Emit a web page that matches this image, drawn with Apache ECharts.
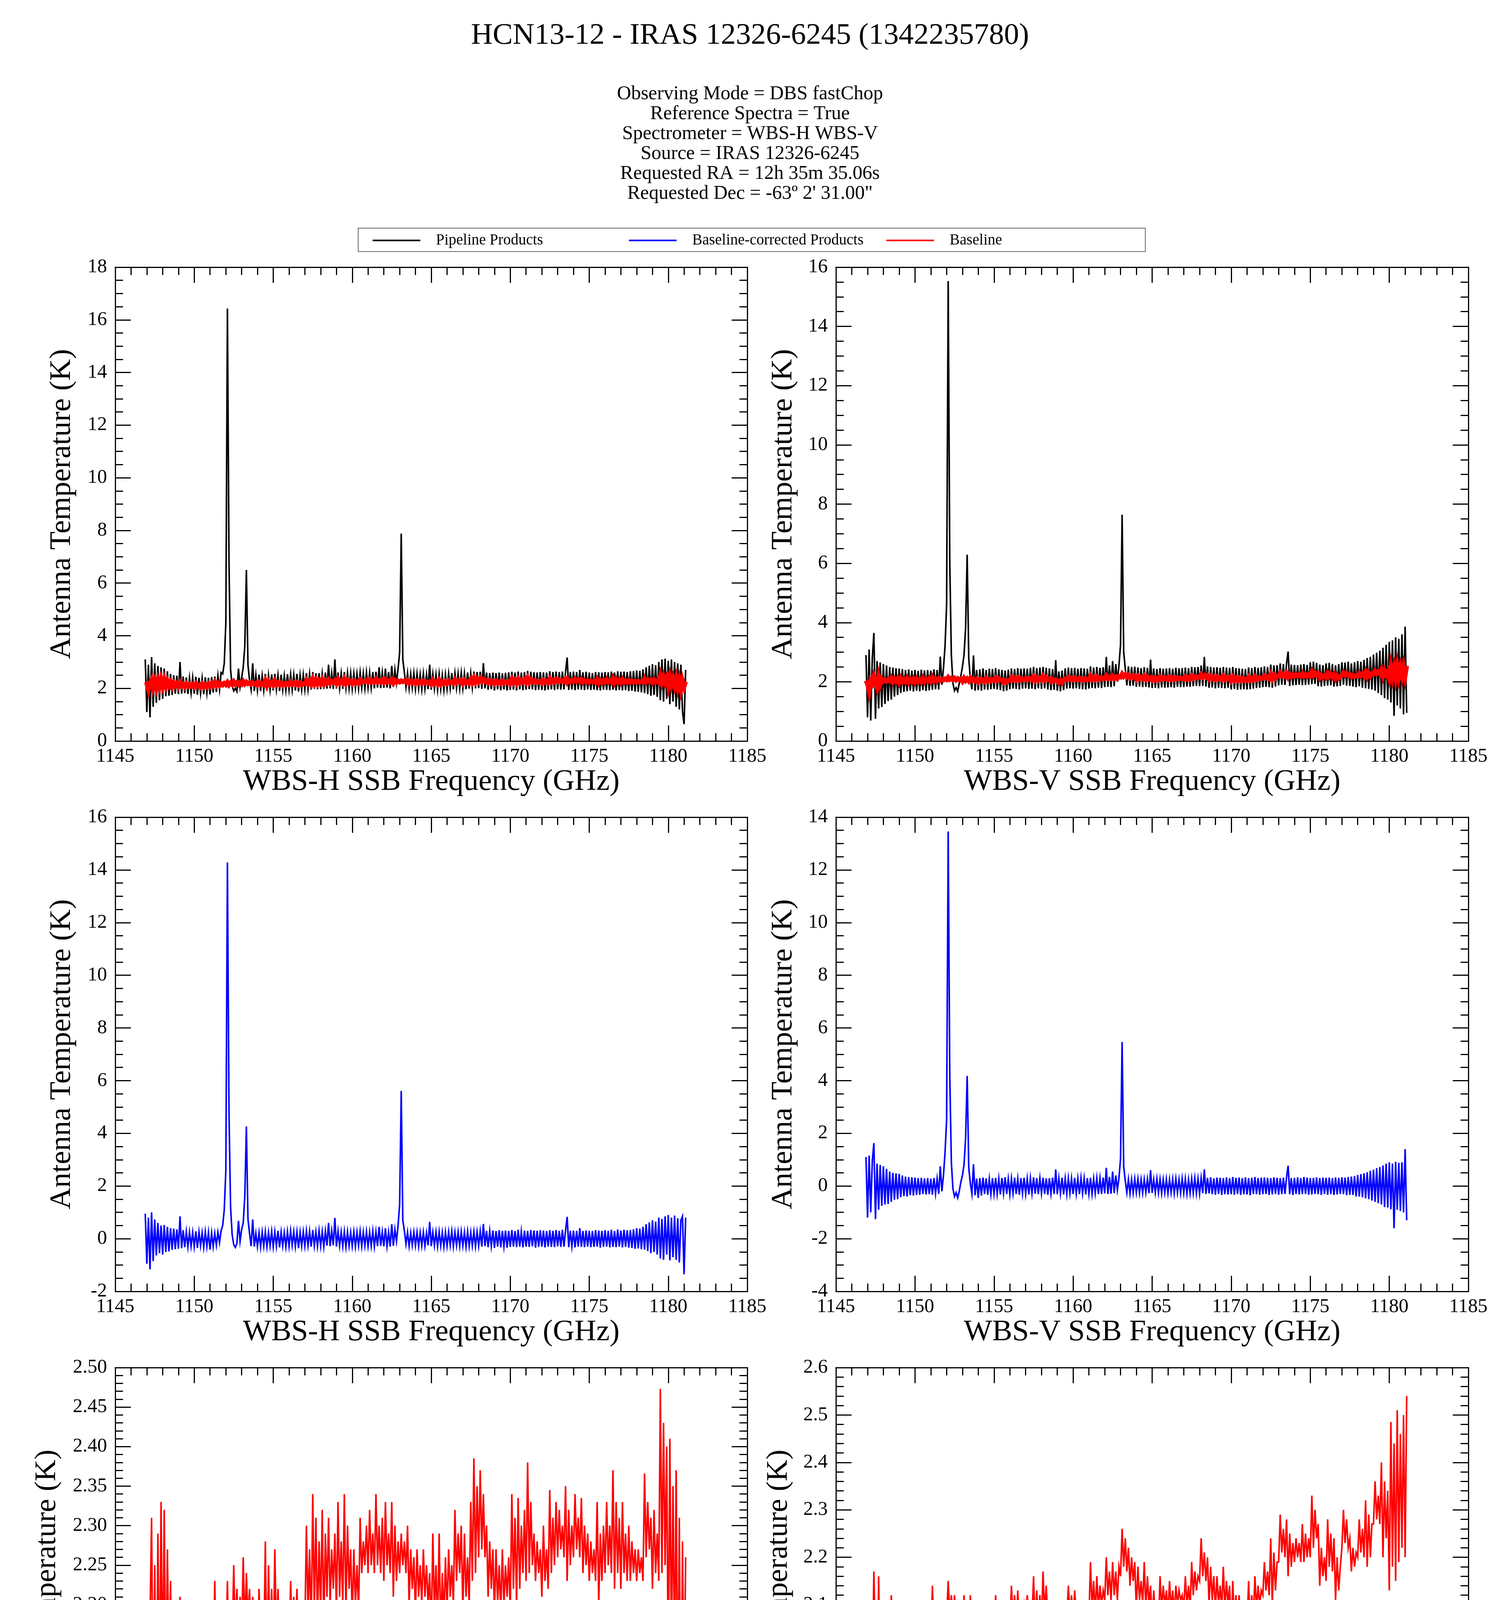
<!DOCTYPE html>
<html>
<head>
<meta charset="utf-8">
<title>HCN13-12 - IRAS 12326-6245 (1342235780)</title>
<script src="https://cdn.jsdelivr.net/npm/echarts@6/dist/echarts.min.js"></script>
<style>
html, body { margin: 0; padding: 0; background: #ffffff; }
#main { width: 3840px; height: 4951px; }
</style>
</head>
<body>
<div id="main"></div>
<script>
var FONT = "'Liberation Serif', 'Times New Roman', Times, serif" ;

// channel grid of all spectra (GHz)
var freqStart = 1146.9 ;
var freqStep = 0.1 ;

var titleText = 'HCN13-12 - IRAS 12326-6245 (1342235780)' ;
var infoLines = [
	'Observing Mode = DBS fastChop',
	'Reference Spectra = True',
	'Spectrometer = WBS-H WBS-V',
	'Source = IRAS 12326-6245',
	'Requested RA = 12h 35m 35.06s',
	'Requested Dec = -63\u00ba 2\' 31.00"'
] ;
var legendNames = [ 'Pipeline Products', 'Baseline-corrected Products', 'Baseline' ] ;
var xNames = [ 'WBS-H SSB Frequency (GHz)', 'WBS-V SSB Frequency (GHz)' ] ;
var yName = 'Antenna Temperature (K)' ;

// WBS-H pipeline product (K), one value per channel
var pipelineH = [
	3.10,
	1.10, 2.90, 0.90, 3.19, 1.30, 2.95, 1.45, 2.85, 1.55, 2.80,   // 1147
	1.60, 2.75, 1.70, 2.65, 1.72, 2.55, 1.75, 2.50, 1.80, 2.48,   // 1148
	1.78, 3.00, 1.80, 2.45, 1.82, 2.42, 1.79, 2.40, 1.83, 2.41,   // 1149
	1.80, 2.44, 1.76, 2.40, 1.81, 2.38, 1.78, 2.42, 1.82, 2.40,   // 1150
	1.77, 2.43, 1.84, 2.45, 1.86, 2.48, 1.95, 2.60, 2.55, 2.95,   // 1151
	4.50, 16.43, 6.80, 2.70, 2.10, 1.90, 2.00, 1.88, 2.75, 2.05,  // 1152
	2.40, 2.80, 3.60, 6.50, 2.90, 2.30, 1.95, 2.95, 1.90, 2.50,   // 1153
	1.92, 2.52, 1.90, 2.48, 1.93, 2.55, 1.91, 2.50, 1.94, 2.53,   // 1154
	1.92, 2.55, 1.95, 2.50, 1.90, 2.52, 1.94, 2.48, 1.93, 2.54,   // 1155
	1.95, 2.53, 1.94, 2.51, 1.92, 2.55, 1.88, 2.50, 1.95, 2.52,   // 1156
	1.96, 2.58, 1.97, 2.55, 1.95, 2.62, 1.98, 2.57, 1.96, 2.58,   // 1157
	1.97, 2.56, 1.98, 2.60, 1.99, 2.90, 2.00, 2.58, 1.98, 3.10,   // 1158
	1.99, 2.60, 2.00, 2.57, 1.98, 2.62, 2.01, 2.59, 2.00, 2.58,   // 1159
	1.98, 2.56, 2.01, 2.55, 1.99, 2.60, 2.02, 2.57, 2.00, 2.61,   // 1160
	2.03, 2.60, 2.02, 2.62, 2.00, 2.63, 2.03, 2.80, 2.01, 2.60,   // 1161
	2.02, 2.75, 2.03, 2.62, 2.00, 2.85, 2.05, 2.70, 2.20, 2.75,   // 1162
	3.36, 7.88, 3.10, 2.60, 2.05, 2.58, 2.00, 2.55, 2.02, 2.57,   // 1163
	1.97, 2.55, 1.99, 2.53, 1.96, 2.56, 1.98, 2.52, 1.97, 2.90,   // 1164
	1.95, 2.54, 1.98, 2.52, 1.94, 2.55, 1.97, 2.50, 1.93, 2.53,   // 1165
	1.98, 2.56, 2.00, 2.58, 1.96, 2.57, 2.01, 2.56, 1.99, 2.59,   // 1166
	2.00, 2.57, 1.97, 2.60, 1.99, 2.58, 2.02, 2.64, 2.00, 2.62,   // 1167
	2.01, 2.63, 1.98, 2.96, 2.00, 2.60, 1.95, 2.58, 1.97, 2.60,   // 1168
	1.92, 2.58, 1.96, 2.60, 1.93, 2.57, 1.96, 2.59, 1.92, 2.61,   // 1169
	1.94, 2.63, 1.95, 2.60, 1.92, 2.64, 1.96, 2.60, 1.93, 2.62,   // 1170
	1.95, 2.66, 1.97, 2.63, 1.96, 2.61, 1.93, 2.60, 1.95, 2.62,   // 1171
	1.94, 2.61, 1.92, 2.60, 1.95, 2.65, 1.96, 2.62, 1.94, 2.64,   // 1172
	1.97, 2.62, 1.95, 2.64, 1.96, 2.63, 3.17, 1.94, 2.62, 1.96,   // 1173
	2.64, 1.93, 2.62, 1.96, 2.70, 1.95, 2.61, 1.93, 2.63, 1.96,   // 1174
	2.60, 1.94, 2.58, 1.95, 2.62, 1.93, 2.61, 1.92, 2.60, 1.95,   // 1175
	2.62, 1.94, 2.61, 1.93, 2.64, 1.95, 2.60, 1.92, 2.65, 1.94,   // 1176
	2.63, 1.92, 2.64, 1.93, 2.62, 1.90, 2.65, 1.91, 2.66, 1.88,   // 1177
	2.68, 1.87, 2.67, 1.85, 2.72, 1.82, 2.80, 1.78, 2.86, 1.72,   // 1178
	2.92, 1.75, 2.88, 1.68, 3.00, 1.55, 3.10, 1.50, 3.13, 1.60,   // 1179
	3.05, 1.40, 3.10, 1.50, 3.00, 1.30, 2.95, 1.20, 2.90, 1.13,   // 1180
	0.64, 2.70
] ;

// WBS-V pipeline product (K)
var pipelineV = [
	2.90,
	0.80, 3.09, 0.69, 2.80, 3.65, 0.75, 2.70, 1.10, 2.65, 1.15,   // 1147
	2.60, 1.25, 2.55, 1.35, 2.50, 1.40, 2.48, 1.50, 2.46, 1.55,   // 1148
	2.45, 1.62, 2.43, 1.66, 2.40, 1.68, 2.42, 1.70, 2.38, 1.67,   // 1149
	2.40, 1.70, 2.37, 1.68, 2.41, 1.72, 2.39, 1.69, 2.40, 1.71,   // 1150
	2.38, 1.73, 2.42, 1.75, 2.40, 1.74, 2.85, 1.90, 2.45, 3.20,   // 1151
	4.60, 15.53, 6.00, 2.90, 1.95, 1.70, 1.80, 1.68, 1.95, 2.20,  // 1152
	2.50, 2.90, 3.80, 6.29, 2.80, 2.10, 1.75, 2.89, 1.70, 2.40,   // 1153
	1.72, 2.42, 1.70, 2.45, 1.74, 2.40, 1.73, 2.44, 1.75, 2.43,   // 1154
	1.76, 2.46, 1.74, 2.42, 1.72, 2.40, 1.68, 2.38, 1.70, 2.41,   // 1155
	1.75, 2.45, 1.77, 2.43, 1.76, 2.46, 1.74, 2.44, 1.77, 2.45,   // 1156
	1.78, 2.44, 1.76, 2.47, 1.77, 2.50, 1.75, 2.46, 1.78, 2.48,   // 1157
	1.76, 2.50, 1.78, 2.47, 1.74, 2.45, 1.72, 2.43, 1.73, 2.73,   // 1158
	1.70, 2.35, 1.68, 2.38, 1.72, 2.45, 1.77, 2.48, 1.78, 2.46,   // 1159
	1.77, 2.47, 1.78, 2.44, 1.76, 2.46, 1.75, 2.45, 1.74, 2.44,   // 1160
	1.77, 2.52, 1.79, 2.48, 1.78, 2.50, 1.80, 2.47, 1.79, 2.49,   // 1161
	1.82, 2.84, 1.83, 2.55, 1.82, 2.70, 1.85, 2.60, 2.00, 2.55,   // 1162
	3.24, 7.64, 3.00, 2.45, 1.88, 2.52, 1.86, 2.50, 1.87, 2.51,   // 1163
	1.83, 2.48, 1.84, 2.46, 1.82, 2.49, 1.83, 2.47, 1.81, 2.75,   // 1164
	1.79, 2.45, 1.80, 2.43, 1.78, 2.46, 1.81, 2.44, 1.80, 2.45,   // 1165
	1.81, 2.46, 1.82, 2.44, 1.80, 2.47, 1.83, 2.45, 1.82, 2.46,   // 1166
	1.82, 2.48, 1.84, 2.46, 1.83, 2.50, 1.85, 2.49, 1.86, 2.50,   // 1167
	1.85, 2.55, 1.86, 2.84, 1.84, 2.52, 1.80, 2.50, 1.81, 2.48,   // 1168
	1.78, 2.49, 1.80, 2.47, 1.79, 2.50, 1.78, 2.48, 1.80, 2.47,   // 1169
	1.74, 2.50, 1.76, 2.46, 1.73, 2.45, 1.74, 2.44, 1.75, 2.43,   // 1170
	1.74, 2.48, 1.75, 2.46, 1.77, 2.50, 1.79, 2.47, 1.80, 2.49,   // 1171
	1.82, 2.52, 1.83, 2.50, 1.82, 2.58, 1.80, 2.55, 1.84, 2.56,   // 1172
	1.88, 2.62, 1.90, 2.60, 1.89, 2.62, 3.02, 1.86, 2.58, 1.88,   // 1173
	2.57, 1.89, 2.56, 1.90, 2.58, 1.88, 2.60, 1.89, 2.57, 1.90,   // 1174
	2.66, 1.92, 2.68, 1.93, 2.64, 1.85, 2.58, 1.84, 2.56, 1.86,   // 1175
	2.62, 1.87, 2.64, 1.88, 2.60, 1.84, 2.56, 1.85, 2.60, 1.86,   // 1176
	2.66, 1.90, 2.65, 1.87, 2.68, 1.86, 2.62, 1.84, 2.66, 1.82,   // 1177
	2.70, 1.85, 2.68, 1.80, 2.74, 1.78, 2.80, 1.76, 2.84, 1.74,   // 1178
	2.92, 1.70, 2.98, 1.62, 3.05, 1.55, 3.15, 1.45, 3.25, 1.40,   // 1179
	3.35, 1.30, 3.40, 0.85, 3.50, 1.20, 3.45, 1.10, 3.60, 0.90,   // 1180
	3.86, 0.95
] ;

// WBS-H baseline-corrected product (K)
var correctedH = [
	0.95,
	-0.95, 0.80, -1.16, 1.00, -0.85, 0.73, -0.64, 0.60, -0.55, 0.50,    // 1147
	-0.60, 0.52, -0.50, 0.45, -0.48, 0.40, -0.42, 0.38, -0.40, 0.35,    // 1148
	-0.38, 0.85, -0.36, 0.32, -0.32, 0.27, -0.30, 0.25, -0.28, 0.24,    // 1149
	-0.30, 0.28, -0.35, 0.25, -0.27, 0.22, -0.32, 0.26, -0.29, 0.24,    // 1150
	-0.41, 0.22, -0.30, 0.20, -0.25, 0.24, -0.15, 0.30, 0.50, 1.10,     // 1151
	2.60, 14.28, 4.80, 1.20, 0.15, -0.22, -0.33, -0.18, 0.68, -0.10,    // 1152
	0.35, 0.60, 1.60, 4.26, 0.75, 0.20, -0.28, 0.73, -0.30, 0.20,       // 1153
	-0.30, 0.22, -0.32, 0.25, -0.28, 0.27, -0.30, 0.24, -0.27, 0.28,    // 1154
	-0.30, 0.26, -0.28, 0.30, -0.33, 0.25, -0.27, 0.23, -0.30, 0.27,    // 1155
	-0.28, 0.30, -0.25, 0.26, -0.30, 0.25, -0.36, 0.24, -0.28, 0.26,    // 1156
	-0.27, 0.30, -0.26, 0.28, -0.30, 0.33, -0.27, 0.25, -0.29, 0.30,    // 1157
	-0.28, 0.27, -0.30, 0.29, -0.26, 0.60, -0.28, 0.30, -0.25, 0.79,    // 1158
	-0.30, 0.28, -0.27, 0.25, -0.29, 0.27, -0.31, 0.26, -0.27, 0.24,    // 1159
	-0.28, 0.26, -0.30, 0.24, -0.27, 0.28, -0.29, 0.25, -0.26, 0.27,    // 1160
	-0.28, 0.25, -0.27, 0.29, -0.30, 0.26, -0.28, 0.45, -0.27, 0.26,    // 1161
	-0.29, 0.40, -0.28, 0.25, -0.30, 0.55, -0.27, 0.35, -0.10, 0.50,    // 1162
	1.30, 5.61, 0.70, 0.30, -0.20, 0.25, -0.28, 0.22, -0.25, 0.24,      // 1163
	-0.26, 0.24, -0.29, 0.23, -0.26, 0.25, -0.27, 0.22, -0.25, 0.64,    // 1164
	-0.28, 0.24, -0.26, 0.25, -0.29, 0.26, -0.27, 0.23, -0.30, 0.25,    // 1165
	-0.27, 0.26, -0.25, 0.28, -0.29, 0.24, -0.26, 0.25, -0.28, 0.27,    // 1166
	-0.26, 0.25, -0.30, 0.27, -0.28, 0.24, -0.27, 0.26, -0.29, 0.25,    // 1167
	-0.27, 0.28, -0.30, 0.56, -0.28, 0.30, -0.32, 0.29, -0.28, 0.31,    // 1168
	-0.35, 0.29, -0.30, 0.32, -0.33, 0.30, -0.29, 0.31, -0.34, 0.30,    // 1169
	-0.31, 0.33, -0.30, 0.29, -0.32, 0.34, -0.30, 0.28, -0.33, 0.31,    // 1170
	-0.30, 0.30, -0.31, 0.33, -0.29, 0.31, -0.34, 0.30, -0.31, 0.32,    // 1171
	-0.30, 0.31, -0.33, 0.29, -0.30, 0.32, -0.31, 0.30, -0.32, 0.33,    // 1172
	-0.29, 0.30, -0.31, 0.34, -0.30, 0.31, 0.83, -0.32, 0.30, -0.29,    // 1173
	0.31, -0.33, 0.30, -0.30, 0.40, -0.31, 0.29, -0.32, 0.31, -0.30,    // 1174
	0.30, -0.32, 0.29, -0.31, 0.33, -0.30, 0.31, -0.34, 0.30, -0.31,    // 1175
	0.32, -0.30, 0.30, -0.33, 0.34, -0.31, 0.29, -0.32, 0.35, -0.30,    // 1176
	0.31, -0.33, 0.34, -0.31, 0.32, -0.34, 0.33, -0.35, 0.36, -0.38,    // 1177
	0.40, -0.37, 0.38, -0.40, 0.45, -0.42, 0.55, -0.47, 0.62, -0.55,    // 1178
	0.70, -0.50, 0.65, -0.60, 0.80, -0.75, 0.75, -0.80, 0.85, -0.60,    // 1179
	0.90, -0.82, 0.80, -0.70, 0.88, -0.80, 0.78, -0.90, 0.70, 0.85,     // 1180
	-1.35, 0.80
] ;

// WBS-V baseline-corrected product (K)
var correctedV = [
	1.10,
	-1.20, 1.15, -1.00, 0.95, 1.63, -1.26, 0.85, -0.90, 0.80, -0.75,    // 1147
	0.75, -0.70, 0.65, -0.68, 0.55, -0.60, 0.50, -0.52, 0.48, -0.50,    // 1148
	0.46, -0.42, 0.40, -0.38, 0.36, -0.40, 0.34, -0.35, 0.33, -0.36,    // 1149
	0.32, -0.34, 0.30, -0.33, 0.31, -0.30, 0.29, -0.32, 0.30, -0.31,    // 1150
	0.28, -0.33, 0.30, -0.29, 0.27, -0.30, 0.75, -0.20, 0.40, 1.26,     // 1151
	2.50, 13.46, 4.20, 0.90, -0.10, -0.40, -0.25, -0.45, -0.20, 0.15,   // 1152
	0.40, 0.80, 1.80, 4.18, 0.70, 0.10, -0.30, 0.83, -0.35, 0.28,       // 1153
	-0.45, 0.30, -0.36, 0.32, -0.30, 0.29, -0.33, 0.27, -0.31, 0.30,    // 1154
	-0.29, 0.31, -0.30, 0.28, -0.32, 0.30, -0.28, 0.33, -0.30, 0.27,    // 1155
	-0.31, 0.29, -0.27, 0.32, -0.30, 0.28, -0.33, 0.30, -0.29, 0.31,    // 1156
	-0.30, 0.28, -0.32, 0.30, -0.27, 0.33, -0.29, 0.30, -0.31, 0.29,    // 1157
	-0.28, 0.31, -0.30, 0.29, -0.33, 0.30, -0.28, 0.32, -0.30, 0.63,    // 1158
	-0.31, 0.29, -0.28, 0.31, -0.32, 0.28, -0.30, 0.30, -0.27, 0.29,    // 1159
	-0.30, 0.31, -0.29, 0.28, -0.31, 0.30, -0.28, 0.29, -0.32, 0.30,    // 1160
	-0.29, 0.31, -0.30, 0.28, -0.27, 0.30, -0.31, 0.29, -0.30, 0.32,    // 1161
	-0.28, 0.69, -0.30, 0.35, -0.29, 0.55, -0.27, 0.40, -0.15, 0.30,    // 1162
	1.03, 5.47, 0.75, 0.20, -0.25, 0.26, -0.28, 0.25, -0.26, 0.27,      // 1163
	-0.25, 0.26, -0.27, 0.24, -0.26, 0.25, -0.24, 0.26, -0.27, 0.60,    // 1164
	-0.26, 0.24, -0.25, 0.27, -0.26, 0.25, -0.28, 0.24, -0.25, 0.26,    // 1165
	-0.27, 0.25, -0.24, 0.26, -0.28, 0.27, -0.25, 0.24, -0.27, 0.28,    // 1166
	-0.26, 0.27, -0.29, 0.25, -0.27, 0.28, -0.26, 0.30, -0.28, 0.27,    // 1167
	-0.29, 0.30, -0.27, 0.63, -0.30, 0.31, -0.28, 0.33, -0.31, 0.29,    // 1168
	-0.33, 0.32, -0.30, 0.31, -0.34, 0.30, -0.31, 0.33, -0.32, 0.30,    // 1169
	-0.31, 0.34, -0.33, 0.31, -0.30, 0.32, -0.34, 0.30, -0.31, 0.33,    // 1170
	-0.32, 0.30, -0.35, 0.31, -0.30, 0.34, -0.31, 0.30, -0.33, 0.32,    // 1171
	-0.31, 0.33, -0.30, 0.31, -0.34, 0.30, -0.32, 0.33, -0.30, 0.31,    // 1172
	-0.33, 0.30, -0.31, 0.32, -0.30, 0.33, 0.77, -0.31, 0.30, -0.34,    // 1173
	0.31, -0.30, 0.33, -0.32, 0.30, -0.31, 0.34, -0.30, 0.32, -0.33,    // 1174
	0.30, -0.32, 0.31, -0.30, 0.33, -0.31, 0.30, -0.34, 0.32, -0.30,    // 1175
	0.31, -0.33, 0.32, -0.31, 0.30, -0.34, 0.33, -0.32, 0.31, -0.30,    // 1176
	0.33, -0.31, 0.32, -0.35, 0.34, -0.33, 0.36, -0.34, 0.38, -0.40,    // 1177
	0.42, -0.40, 0.45, -0.43, 0.48, -0.47, 0.52, -0.50, 0.58, -0.55,    // 1178
	0.62, -0.60, 0.68, -0.65, 0.72, -0.70, 0.78, -0.80, 0.85, -0.82,    // 1179
	0.90, -0.88, 0.85, -1.60, 0.92, -0.90, 0.88, -0.95, 0.90, -1.00,    // 1180
	1.40, -1.30
] ;

// WBS-H baseline (K)
var baselineH = [
	2.12,
	2.16, 1.95, 2.18, 2.31, 2.04, 2.25, 2.02, 2.29, 2.08, 2.33,   // 1147
	2.10, 2.32, 2.09, 2.27, 2.12, 2.23, 2.06, 2.20, 2.10, 2.18,   // 1148
	2.07, 2.21, 2.09, 2.16, 2.07, 2.17, 2.08, 2.15, 2.09, 2.14,   // 1149
	2.06, 2.17, 2.08, 2.12, 2.05, 2.16, 2.06, 2.14, 2.07, 2.16,   // 1150
	2.08, 2.18, 2.11, 2.23, 2.12, 2.19, 2.11, 2.18, 2.13, 2.19,   // 1151
	2.14, 2.23, 2.13, 2.20, 2.15, 2.25, 2.16, 2.22, 2.15, 2.21,   // 1152
	2.16, 2.26, 2.17, 2.24, 2.18, 2.22, 2.16, 2.21, 2.17, 2.20,   // 1153
	2.13, 2.22, 2.15, 2.19, 2.14, 2.28, 2.11, 2.25, 2.15, 2.22,   // 1154
	2.13, 2.27, 2.16, 2.22, 2.14, 2.20, 2.12, 2.18, 2.14, 2.19,   // 1155
	2.14, 2.23, 2.16, 2.21, 2.15, 2.22, 2.13, 2.20, 2.14, 2.18,   // 1156
	2.17, 2.30, 2.19, 2.27, 2.16, 2.34, 2.19, 2.31, 2.17, 2.28,   // 1157
	2.19, 2.32, 2.17, 2.29, 2.21, 2.31, 2.20, 2.27, 2.22, 2.29,   // 1158
	2.19, 2.33, 2.21, 2.28, 2.20, 2.34, 2.19, 2.30, 2.22, 2.27,   // 1159
	2.18, 2.27, 2.20, 2.25, 2.19, 2.31, 2.24, 2.28, 2.25, 2.30,   // 1160
	2.24, 2.32, 2.25, 2.29, 2.24, 2.34, 2.25, 2.30, 2.24, 2.31,   // 1161
	2.23, 2.33, 2.25, 2.29, 2.24, 2.33, 2.21, 2.30, 2.23, 2.28,   // 1162
	2.24, 2.29, 2.25, 2.28, 2.24, 2.30, 2.20, 2.27, 2.22, 2.26,   // 1163
	2.19, 2.27, 2.21, 2.25, 2.20, 2.27, 2.21, 2.25, 2.20, 2.24,   // 1164
	2.16, 2.29, 2.19, 2.25, 2.17, 2.29, 2.16, 2.24, 2.18, 2.26,   // 1165
	2.19, 2.27, 2.21, 2.25, 2.20, 2.32, 2.23, 2.29, 2.24, 2.30,   // 1166
	2.19, 2.29, 2.21, 2.26, 2.20, 2.33, 2.23, 2.385, 2.24, 2.35,  // 1167
	2.26, 2.37, 2.27, 2.34, 2.26, 2.30, 2.21, 2.28, 2.22, 2.27,   // 1168
	2.19, 2.27, 2.20, 2.25, 2.19, 2.27, 2.20, 2.25, 2.21, 2.26,   // 1169
	2.19, 2.34, 2.22, 2.31, 2.20, 2.335, 2.22, 2.30, 2.24, 2.32,  // 1170
	2.23, 2.38, 2.24, 2.33, 2.25, 2.29, 2.23, 2.28, 2.24, 2.27,   // 1171
	2.21, 2.30, 2.23, 2.27, 2.22, 2.345, 2.24, 2.31, 2.25, 2.33,  // 1172
	2.26, 2.32, 2.27, 2.30, 2.26, 2.35, 2.23, 2.32, 2.25, 2.30,   // 1173
	2.26, 2.34, 2.27, 2.31, 2.26, 2.335, 2.24, 2.30, 2.25, 2.29,  // 1174
	2.23, 2.28, 2.24, 2.27, 2.23, 2.33, 2.20, 2.29, 2.23, 2.30,   // 1175
	2.24, 2.33, 2.25, 2.30, 2.24, 2.37, 2.22, 2.33, 2.24, 2.31,   // 1176
	2.22, 2.33, 2.24, 2.29, 2.23, 2.30, 2.23, 2.28, 2.24, 2.27,   // 1177
	2.23, 2.27, 2.24, 2.26, 2.23, 2.366, 2.26, 2.33, 2.27, 2.31,  // 1178
	2.22, 2.32, 2.24, 2.29, 2.23, 2.473, 2.24, 2.43, 2.25, 2.40,  // 1179
	2.10, 2.41, 2.14, 2.35, 2.12, 2.37, 2.05, 2.31, 1.99, 2.28,   // 1180
	2.07, 2.26
] ;

// WBS-V baseline (K)
var baselineV = [
	2.04,
	1.92, 1.68, 2.03, 1.95, 2.17, 2.00, 1.82, 2.16, 1.93, 2.09,   // 1147
	2.02, 2.07, 2.02, 2.06, 2.03, 2.12, 2.00, 2.09, 2.02, 2.10,   // 1148
	1.98, 2.11, 2.01, 2.08, 2.00, 2.10, 1.99, 2.07, 2.01, 2.09,   // 1149
	1.99, 2.09, 2.01, 2.07, 2.00, 2.11, 2.01, 2.08, 2.03, 2.10,   // 1150
	2.02, 2.14, 2.04, 2.10, 2.03, 2.10, 2.05, 2.09, 2.06, 2.10,   // 1151
	2.07, 2.15, 2.08, 2.12, 2.07, 2.12, 2.06, 2.11, 2.07, 2.10,   // 1152
	2.02, 2.12, 2.04, 2.10, 2.03, 2.12, 2.04, 2.09, 2.03, 2.08,   // 1153
	2.00, 2.08, 2.02, 2.06, 2.01, 2.10, 2.02, 2.08, 2.03, 2.07,   // 1154
	2.04, 2.12, 2.05, 2.10, 2.06, 2.06, 1.98, 2.04, 1.99, 2.03,   // 1155
	2.05, 2.14, 2.07, 2.12, 2.06, 2.13, 2.06, 2.11, 2.07, 2.10,   // 1156
	2.07, 2.12, 2.08, 2.11, 2.07, 2.16, 2.05, 2.13, 2.06, 2.12,   // 1157
	2.06, 2.17, 2.08, 2.14, 2.07, 2.10, 2.02, 2.08, 2.03, 2.07,   // 1158
	2.03, 1.97, 2.04, 1.98, 2.06, 2.10, 2.07, 2.14, 2.08, 2.12,   // 1159
	2.07, 2.13, 2.08, 2.11, 2.07, 2.11, 2.05, 2.10, 2.06, 2.09,   // 1160
	2.07, 2.19, 2.09, 2.15, 2.08, 2.16, 2.09, 2.14, 2.10, 2.13,   // 1161
	2.11, 2.20, 2.12, 2.17, 2.11, 2.19, 2.12, 2.17, 2.11, 2.18,   // 1162
	2.16, 2.26, 2.18, 2.24, 2.17, 2.22, 2.14, 2.20, 2.15, 2.19,   // 1163
	2.09, 2.18, 2.11, 2.15, 2.10, 2.19, 2.09, 2.16, 2.10, 2.14,   // 1164
	2.06, 2.13, 2.07, 2.11, 2.06, 2.16, 2.09, 2.14, 2.10, 2.13,   // 1165
	2.08, 2.15, 2.09, 2.13, 2.08, 2.14, 2.10, 2.13, 2.11, 2.12,   // 1166
	2.09, 2.16, 2.10, 2.14, 2.09, 2.19, 2.12, 2.17, 2.13, 2.16,   // 1167
	2.15, 2.24, 2.16, 2.21, 2.15, 2.20, 2.10, 2.18, 2.11, 2.16,   // 1168
	2.09, 2.16, 2.10, 2.14, 2.09, 2.18, 2.09, 2.15, 2.10, 2.14,   // 1169
	2.04, 2.15, 2.06, 2.12, 2.05, 2.12, 2.04, 2.10, 2.05, 2.09,   // 1170
	2.05, 2.15, 2.06, 2.12, 2.07, 2.16, 2.09, 2.14, 2.10, 2.13,   // 1171
	2.12, 2.19, 2.13, 2.17, 2.12, 2.24, 2.10, 2.21, 2.13, 2.19,   // 1172
	2.19, 2.29, 2.21, 2.26, 2.20, 2.28, 2.16, 2.25, 2.18, 2.23,   // 1173
	2.19, 2.24, 2.20, 2.23, 2.19, 2.27, 2.19, 2.25, 2.20, 2.24,   // 1174
	2.20, 2.33, 2.22, 2.30, 2.24, 2.27, 2.14, 2.22, 2.16, 2.20,   // 1175
	2.15, 2.28, 2.18, 2.25, 2.17, 2.24, 2.11, 2.20, 2.13, 2.18,   // 1176
	2.22, 2.30, 2.23, 2.28, 2.22, 2.24, 2.17, 2.22, 2.18, 2.21,   // 1177
	2.20, 2.28, 2.21, 2.26, 2.20, 2.32, 2.18, 2.29, 2.20, 2.27,   // 1178
	2.27, 2.36, 2.28, 2.33, 2.27, 2.40, 2.20, 2.36, 2.24, 2.34,   // 1179
	2.13, 2.485, 2.18, 2.44, 2.15, 2.51, 2.19, 2.46, 2.22, 2.50,  // 1180
	2.20, 2.54
] ;

// frame of every panel, in page pixels
var panels = [
	{ left: 295,  top: 684,  width: 1618, height: 1213, xName: xNames[0], yMin: 0,   yMax: 18,  yStep: 2,    yMinor: 4, yDigits: 0, yGap: 98 },
	{ left: 2140, top: 684,  width: 1619, height: 1213, xName: xNames[1], yMin: 0,   yMax: 16,  yStep: 2,    yMinor: 4, yDigits: 0, yGap: 96 },
	{ left: 295,  top: 2092, width: 1618, height: 1214, xName: xNames[0], yMin: -2,  yMax: 16,  yStep: 2,    yMinor: 4, yDigits: 0, yGap: 98 },
	{ left: 2140, top: 2092, width: 1619, height: 1214, xName: xNames[1], yMin: -4,  yMax: 14,  yStep: 2,    yMinor: 4, yDigits: 0, yGap: 96 },
	{ left: 295,  top: 3501, width: 1618, height: 1214, xName: xNames[0], yMin: 1.9, yMax: 2.5, yStep: 0.05, yMinor: 5, yDigits: 2, yGap: 136 },
	{ left: 2140, top: 3501, width: 1619, height: 1214, xName: xNames[1], yMin: 1.6, yMax: 2.6, yStep: 0.1,  yMinor: 5, yDigits: 1, yGap: 108 }
] ;

function toPairs( vals )
{
	var out = [] ;
	for( var i = 0 ; i < vals.length ; i++ )
	{
		out.push( [ +( freqStart + i * freqStep ).toFixed( 2 ), vals[i] ] ) ;
	}
	return out ;
}

function tickStyle( minorSplit )
{
	return {
		axisLine : { show: true, onZero: false, lineStyle: { color: '#000', width: 3 } },
		axisTick : { show: true, inside: true, length: 40, lineStyle: { color: '#000', width: 3 } },
		minorTick : { show: true, splitNumber: minorSplit, length: 20, lineStyle: { color: '#000', width: 3 } },
		splitLine : { show: false },
		minorSplitLine : { show: false }
	} ;
}

function makeX( gi, p, onTop )
{
	var ax = tickStyle( 5 ) ;
	ax.type = 'value' ;
	ax.gridIndex = gi ;
	ax.position = onTop ? 'top' : 'bottom' ;
	ax.min = 1145 ;
	ax.max = 1185 ;
	ax.interval = 5 ;
	ax.axisLabel = {
		show: !onTop, margin: 15, fontSize: 50, fontFamily: FONT, color: '#000',
		formatter: function ( v ) { return String( v ) ; }
	} ;
	if( !onTop )
	{
		ax.name = p.xName ;
		ax.nameLocation = 'middle' ;
		ax.nameGap = 66 ;
		ax.nameTextStyle = { fontSize: 77, fontFamily: FONT, color: '#000' } ;
	}
	return ax ;
}

function makeY( gi, p, onRight )
{
	var ax = tickStyle( p.yMinor ) ;
	ax.type = 'value' ;
	ax.gridIndex = gi ;
	ax.position = onRight ? 'right' : 'left' ;
	ax.min = p.yMin ;
	ax.max = p.yMax ;
	ax.interval = p.yStep ;
	ax.axisLabel = {
		show: !onRight, margin: 21, fontSize: 50, fontFamily: FONT, color: '#000',
		formatter: function ( v ) { return v.toFixed( p.yDigits ) ; }
	} ;
	if( !onRight )
	{
		ax.name = yName ;
		ax.nameLocation = 'middle' ;
		ax.nameGap = p.yGap ;
		ax.nameTextStyle = { fontSize: 77, fontFamily: FONT, color: '#000' } ;
	}
	return ax ;
}

function lineSeries( name, gi, vals, color, width, z )
{
	return {
		name: name,
		type: 'line',
		xAxisIndex: gi * 2,
		yAxisIndex: gi * 2,
		data: toPairs( vals ),
		showSymbol: false,
		symbol: 'none',
		silent: true,
		z: z,
		itemStyle: { color: color },
		lineStyle: { color: color, width: width, join: 'miter' }
	} ;
}

function legendAt( name, left )
{
	return {
		data: [ name ],
		left: left,
		top: 596,
		padding: 0,
		icon: 'rect',
		itemWidth: 122,
		itemHeight: 4,
		selectedMode: false,
		textStyle: { fontSize: 39, lineHeight: 36, fontFamily: FONT, color: '#000', padding: [ 0, 0, 0, 35 ] }
	} ;
}

function initPage()
{
	var grids = [], xAxes = [], yAxes = [] ;
	for( var i = 0 ; i < panels.length ; i++ )
	{
		var p = panels[i] ;
		grids.push( { left: p.left, top: p.top, width: p.width, height: p.height, containLabel: false } ) ;
		xAxes.push( makeX( i, p, false ) ) ;
		xAxes.push( makeX( i, p, true ) ) ;
		yAxes.push( makeY( i, p, false ) ) ;
		yAxes.push( makeY( i, p, true ) ) ;
	}

	var series = [
		lineSeries( legendNames[0], 0, pipelineH, '#000000', 4, 2 ),
		lineSeries( legendNames[2], 0, baselineH, '#ff0000', 12, 3 ),
		lineSeries( legendNames[0], 1, pipelineV, '#000000', 4, 2 ),
		lineSeries( legendNames[2], 1, baselineV, '#ff0000', 12, 3 ),
		lineSeries( legendNames[1], 2, correctedH, '#0000ff', 4, 2 ),
		lineSeries( legendNames[1], 3, correctedV, '#0000ff', 4, 2 ),
		lineSeries( legendNames[2], 4, baselineH, '#ff0000', 4, 2 ),
		lineSeries( legendNames[2], 5, baselineV, '#ff0000', 4, 2 )
	] ;

	var option = {
		backgroundColor: '#ffffff',
		animation: false,
		title: {
			text: titleText,
			subtext: infoLines.join( '\n' ),
			left: 'center',
			top: 48,
			itemGap: 85,
			textStyle: { fontSize: 77, fontWeight: 'normal', fontFamily: FONT, color: '#000' },
			subtextStyle: { fontSize: 50, lineHeight: 51, fontFamily: FONT, color: '#000' }
		},
		legend: [
			legendAt( legendNames[0], 954 ),
			legendAt( legendNames[1], 1610 ),
			legendAt( legendNames[2], 2269 )
		],
		graphic: [
			{ type: 'rect', silent: true, z: -10,
			  shape: { x: 917, y: 584, width: 2015, height: 60 },
			  style: { fill: 'none', stroke: '#666666', lineWidth: 2 } }
		],
		grid: grids,
		xAxis: xAxes,
		yAxis: yAxes,
		series: series
	} ;

	var myChart = echarts.init( document.getElementById( 'main' ), null, { renderer: 'canvas' } ) ;
	myChart.setOption( option ) ;
}

initPage() ;
</script>
</body>
</html>
